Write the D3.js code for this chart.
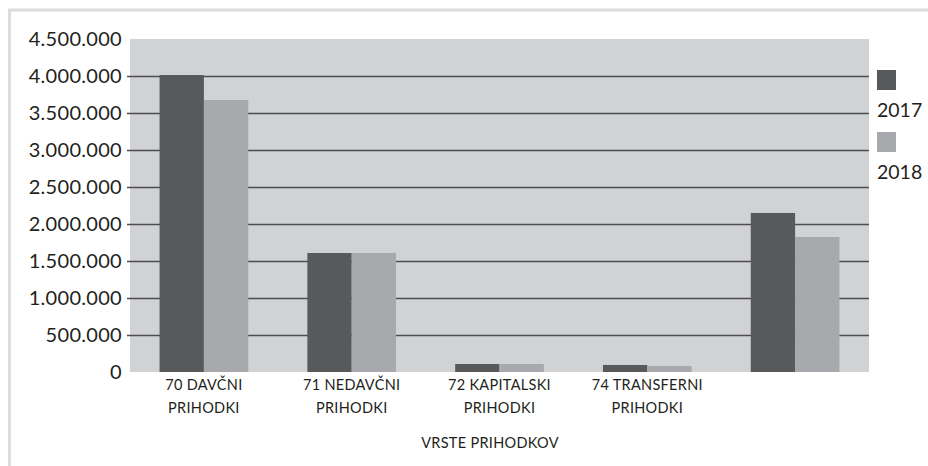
<!DOCTYPE html>
<html>
<head>
<meta charset="utf-8">
<script src="https://cdn.jsdelivr.net/npm/d3@7"></script>
<style>
  body { margin: 0; background: white; }
  text { font-family: Lato, "Open Sans", sans-serif; fill: #231f20; }
</style>
</head>
<body>
<div id="chart"></div>
<script>
// data
var categories = [["70 DAVČNI", "PRIHODKI"], ["71 NEDAVČNI", "PRIHODKI"], ["72 KAPITALSKI", "PRIHODKI"], ["74 TRANSFERNI", "PRIHODKI"], ["", ""]];
var series = ["2017", "2018"];
var values2017 = [4013000, 1608000, 108000, 95000, 2149000];
var values2018 = [3676000, 1608000, 108000, 81000, 1824000];
var yTicks = [0, 500000, 1000000, 1500000, 2000000, 2500000, 3000000, 3500000, 4000000, 4500000];
var colors = ["#58595b", "#a7a9ac"];

var width = 928, height = 466;
var margin = {left: 130, right: 59, top: 39, bottom: 94};

var svg = d3.select("#chart")
    .append("svg")
    .attr("width", width)
    .attr("height", height);

// outer frame
svg.append("rect")
    .attr("x", 9.5).attr("y", 10)
    .attr("width", width).attr("height", height)
    .attr("fill", "none")
    .attr("stroke", "#dcdddd")
    .attr("stroke-width", 3);

var x = d3.scaleBand()
    .domain(d3.range(categories.length))
    .range([margin.left, width - margin.right])
    .paddingInner(0.4)
    .paddingOuter(0.2);

var x1 = d3.scaleBand()
    .domain(series)
    .range([0, x.bandwidth()]);

var y = d3.scaleLinear()
    .domain([0, 4500000])
    .range([height - margin.bottom, margin.top]);

svg.append("rect")
    .attr("x", margin.left)
    .attr("y", margin.top)
    .attr("width", width - margin.left - margin.right)
    .attr("height", height - margin.top - margin.bottom)
    .attr("fill", "#d1d2d4");

var fmt = function(d) { return d3.format(",")(d).replace(/,/g, "."); };

var yAxis = svg.append("g")
    .attr("transform", "translate(" + margin.left + ",0)")
    .call(d3.axisLeft(y)
        .tickValues(yTicks)
        .tickSize(-(width - margin.left - margin.right))
        .tickSizeOuter(0)
        .tickPadding(8)
        .tickFormat(fmt));

yAxis.select(".domain").remove();
yAxis.selectAll(".tick line")
    .attr("x1", -3)
    .attr("stroke", "#4d4d4f")
    .attr("stroke-width", 1.5)
    .filter(function(d) { return d === 0 || d === 4500000; })
    .remove();
yAxis.selectAll(".tick text")
    .attr("font-size", 20)
    .style("font-family", "Lato, sans-serif")
    .style("letter-spacing", "0.3px")
    .attr("fill", "#231f20");

var data = categories.map(function(c, i) {
    return {i: i, vals: [values2017[i], values2018[i]]};
});

var groups = svg.append("g")
    .selectAll("g")
    .data(data)
    .enter().append("g")
    .attr("transform", function(d) { return "translate(" + x(d.i) + ",0)"; });

groups.selectAll("rect")
    .data(function(d) { return d.vals.map(function(v, k) { return {s: series[k], v: v, k: k}; }); })
    .enter().append("rect")
    .attr("x", function(d) { return x1(d.s); })
    .attr("y", function(d) { return y(d.v); })
    .attr("width", x1.bandwidth())
    .attr("height", function(d) { return y(0) - y(d.v); })
    .attr("fill", function(d) { return colors[d.k]; });

// category labels
var labels = svg.append("g")
    .selectAll("text")
    .data(categories)
    .enter().append("text")
    .attr("text-anchor", "middle")
    .attr("font-size", 14.5)
    .style("letter-spacing", "0.3px")
    .attr("transform", function(d, i) { return "translate(" + (x(i) + x.bandwidth() / 2) + ",0)"; });

labels.append("tspan").attr("x", 0).attr("y", 390).text(function(d) { return d[0]; });
labels.append("tspan").attr("x", 0).attr("y", 413).text(function(d) { return d[1]; });

svg.append("text")
    .attr("x", 490)
    .attr("y", 448)
    .attr("text-anchor", "middle")
    .attr("font-size", 14.5)
    .style("letter-spacing", "0.3px")
    .text("VRSTE PRIHODKOV");

// legend
var legend = svg.append("g")
    .selectAll("g")
    .data(series)
    .enter().append("g")
    .attr("transform", function(d, i) { return "translate(877," + (70 + i * 62) + ")"; });

legend.append("rect")
    .attr("width", 19)
    .attr("height", 20)
    .attr("fill", function(d, i) { return colors[i]; });

legend.append("text")
    .attr("x", 0)
    .attr("y", 47)
    .attr("font-size", 19.5)
    .text(function(d) { return d; });
</script>
</body>
</html>
